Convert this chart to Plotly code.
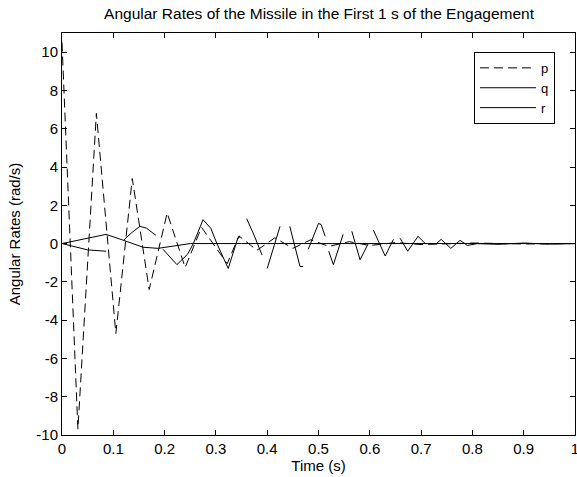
import plotly.graph_objects as go

# p (dashed) vertices
p_t = [0.0, 0.031, 0.067, 0.105, 0.137, 0.170, 0.205, 0.240, 0.272, 0.322, 0.345, 0.380,
       0.415, 0.450, 0.485, 0.520, 0.560, 0.600, 0.650, 0.700, 0.800, 0.900, 1.0]
p_v = [10.5, -9.7, 6.8, -4.7, 3.4, -2.4, 1.6, -1.25, 0.85, -1.05, 0.4, -0.35,
       0.3, -0.25, 0.2, -0.15, 0.1, -0.1, 0.05, -0.05, 0.03, -0.02, 0.0]

# q (solid, smooth then flat)
q_t = [0.0, 0.02, 0.055, 0.086, 0.12, 0.158, 0.187, 0.22, 0.25, 0.35, 0.5, 0.7, 0.85, 1.0]
q_v = [0.0, 0.12, 0.33, 0.48, 0.17, -0.19, -0.25, -0.1, 0.0, 0.0, 0.0, 0.0, 0.0, 0.0]

# r (solid, oscillating, drawn in pieces)
r_t = [0.0, 0.02, 0.05, 0.086, None,
       0.12, 0.135, 0.152, 0.165, 0.183, None,
       0.197, 0.224, 0.245, 0.256, 0.275, 0.29, 0.302, 0.324, 0.343, 0.347, None,
       0.36, 0.375, 0.39, None,
       0.40, 0.425, None,
       0.444, 0.464, 0.47, None,
       0.48, 0.50, 0.505, 0.513, None,
       0.52, 0.529, 0.548, None,
       0.565, 0.581, 0.597, None,
       0.607, 0.63, 0.646, None,
       0.659, 0.674, 0.694, 0.708, 0.73, 0.739, 0.758, 0.776, 0.79, 0.81,
       0.85, 0.9, 0.95, 1.0]
r_v = [0.0, -0.12, -0.33, -0.4, None,
       0.17, 0.55, 0.9, 0.8, 0.43, None,
       -0.3, -1.1, -0.55, 0.0, 1.25, 0.8, 0.0, -1.3, 0.3, 0.35, None,
       1.3, 0.4, -0.6, None,
       -1.3, 0.9, None,
       0.9, -1.2, -1.2, None,
       -0.3, 1.05, 1.0, 0.38, None,
       -0.4, -1.1, 0.48, None,
       0.64, -0.85, 0.0, None,
       0.7, -0.65, 0.22, None,
       0.28, -0.4, 0.38, 0.0, 0.0, 0.22, -0.25, 0.17, -0.1, 0.0,
       -0.04, 0.03, -0.03, 0.0]

x_ticks = [0, 0.1, 0.2, 0.3, 0.4, 0.5, 0.6, 0.7, 0.8, 0.9, 1]
x_labels = ["0", "0.1", "0.2", "0.3", "0.4", "0.5", "0.6", "0.7", "0.8", "0.9", "1"]
y_ticks = [-10, -8, -6, -4, -2, 0, 2, 4, 6, 8, 10]
y_labels = [str(v) for v in y_ticks]

FONT = "Liberation Sans, Arial, sans-serif"
FS = 15

fig = go.Figure()
fig.add_trace(go.Scatter(x=p_t, y=p_v, mode="lines", name="p",
                         line=dict(color="black", width=1, dash="9px,5px")))
fig.add_trace(go.Scatter(x=q_t, y=q_v, mode="lines", name="q",
                         line=dict(color="black", width=1)))
fig.add_trace(go.Scatter(x=r_t, y=r_v, mode="lines", name="r", connectgaps=False,
                         line=dict(color="black", width=1)))

fig.update_layout(
    width=577, height=477,
    margin=dict(l=62, r=2, t=33, b=42, autoexpand=False),
    paper_bgcolor="white", plot_bgcolor="white",
    font=dict(family=FONT, size=FS, color="black"),
    title=dict(text="Angular Rates of the Missile in the First 1 s of the Engagement",
               x=0.553, xanchor="center", y=0.972, yanchor="middle",
               font=dict(family=FONT, size=15.5, color="black")),
    legend=dict(x=0.961, y=0.953, xanchor="right", yanchor="top",
                bordercolor="black", borderwidth=1, bgcolor="white",
                font=dict(family=FONT, size=13, color="black"),
                tracegroupgap=0, itemwidth=56),
    showlegend=True,
)
fig.update_xaxes(range=[0, 1], tickvals=x_ticks, ticktext=x_labels,
                 ticks="inside", ticklen=5, tickcolor="black",
                 showline=True, linecolor="black", linewidth=1, mirror="ticks",
                 showgrid=False, zeroline=False, automargin=False,
                 ticklabeloverflow="allow",
                 title=dict(text="Time (s)", standoff=2,
                            font=dict(family=FONT, size=FS, color="black")))
fig.update_yaxes(range=[-10, 11], tickvals=y_ticks, ticktext=y_labels,
                 ticks="inside", ticklen=5, tickcolor="black",
                 showline=True, linecolor="black", linewidth=1, mirror="ticks",
                 showgrid=False, zeroline=False, automargin=False,
                 ticklabeloverflow="allow",
                 title=dict(text="Angular Rates (rad/s)", standoff=12,
                            font=dict(family=FONT, size=FS, color="black")))

fig.write_html("out.html", config={"displayModeBar": False},
               post_script="document.body.style.margin='0px';document.body.style.overflow='hidden';")
